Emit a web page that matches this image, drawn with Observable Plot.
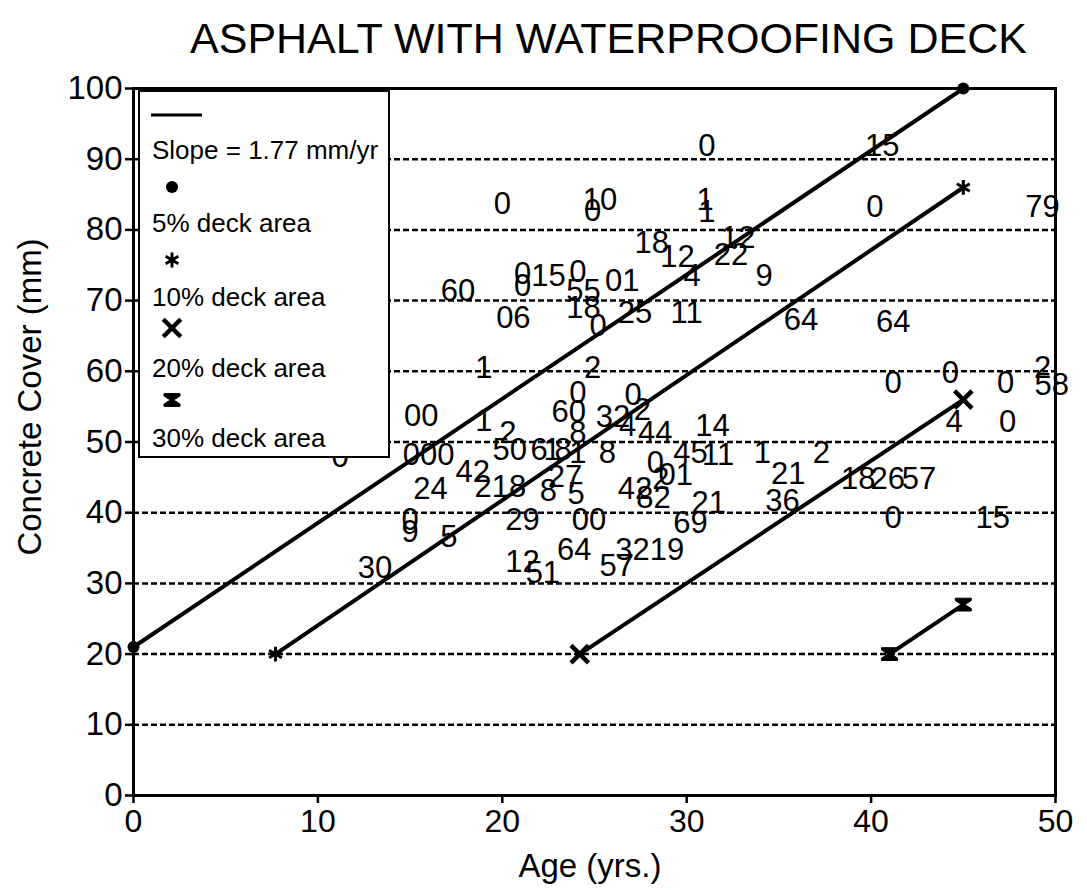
<!DOCTYPE html>
<html>
<head>
<meta charset="utf-8">
<script src="https://cdn.jsdelivr.net/npm/d3@7"></script>
<script src="https://cdn.jsdelivr.net/npm/@observablehq/plot@0.6"></script>
<style>
  body { margin: 0; background: #fff; font-family: "Liberation Sans", Arial, Helvetica, sans-serif; color: #000; }
  #wrap { position: relative; width: 1087px; height: 890px; overflow: hidden; background: #fff; }
  #title { height: 70px; line-height: 76px; font-size: 43px; text-align: center; padding-left: 130px;
           box-sizing: border-box; width: 1087px; white-space: nowrap; }
  #legend { position: absolute; left: 138px; top: 90px; width: 252px; height: 368px;
            border: 2px solid #000; background: #fff; box-sizing: border-box; }
  #legend svg { position: absolute; left: 0; top: 0; }
  .axlabel { position: absolute; font-size: 32px; white-space: nowrap; transform: translate(-50%, -50%); }
  #ylabel { left: 30px; top: 397px; transform: translate(-50%, -50%) rotate(-90deg); font-size: 33px; }
  #xlabel { left: 590px; top: 866px; font-size: 33px; }
</style>
</head>
<body>
<div id="wrap">
  <div id="title">ASPHALT WITH WATERPROOFING DECK</div>
  <div id="chart"></div>
  <div id="legend"></div>
  <div class="axlabel" id="ylabel">Concrete Cover (mm)</div>
  <div class="axlabel" id="xlabel">Age (yrs.)</div>
</div>
<script>
// ---------- data ----------
const series = ["5% deck area", "10% deck area", "20% deck area", "30% deck area"];
const startAge = [0, 7.7, 24.2, 41];
const startCover = [21, 20, 20, 20];
const endAge = [45, 45, 45, 45];
const endCover = [100, 86, 56, 27];
const slopeNote = "Slope = 1.77 mm/yr";

const xTicks = [0, 10, 20, 30, 40, 50];
const yTicks = [0, 10, 20, 30, 40, 50, 60, 70, 80, 90, 100];
const gridTicks = [10, 20, 30, 40, 50, 60, 70, 80, 90];

const labelText = ["0","15","0","10","0","1","1","0","79","18",
  "12","12","22","9","4","01","60","0","0","15",
  "0","55","18","0","06","25","11","64","64","1",
  "2","0","0","0","2","58","4","0","00","1",
  "2","000","24","42","218","50","6","1","8","1",
  "8","60","0","8","32","0","2","4","44","14",
  "45","11","1","2","21","18","26","57","36","21",
  "69","0","01","42","2","82","27","8","5","0",
  "9","5","30","29","00","64","57","3219","12","51",
  "0","0","15"];
const labelAge = [31.1,40.6,20.0,25.3,24.9,31.0,31.1,40.2,49.3,28.1,
  29.5,32.8,32.4,34.2,30.3,26.5,17.6,21.1,21.1,22.5,
  24.1,24.4,24.4,25.2,20.6,27.2,30.0,36.2,41.2,19.0,
  24.9,41.2,44.3,47.3,49.3,49.8,44.5,47.4,15.6,19.0,
  20.3,16.0,16.1,18.4,19.9,20.4,22.0,22.7,23.3,24.1,
  25.7,23.6,24.1,24.1,26.0,27.1,27.6,26.8,28.3,31.4,
  30.2,31.7,34.1,37.3,35.5,39.3,40.9,42.6,35.2,31.2,
  30.2,28.3,29.4,27.2,28.6,28.2,23.4,22.5,24.0,15.0,
  15.0,17.1,13.1,21.1,24.7,23.9,26.2,28.0,21.1,22.2,
  11.2,41.2,46.6];
const labelCover = [91.9,91.9,83.7,84.2,82.7,84.2,82.5,83.2,83.2,78.2,
  76.1,78.9,76.4,73.5,73.5,72.8,71.4,73.8,72.1,73.5,
  74.0,71.4,68.9,66.4,67.5,68.2,68.2,67.2,66.9,60.5,
  60.4,58.3,59.8,58.3,60.4,58.0,52.8,52.8,53.7,53.0,
  51.2,48.1,43.4,45.7,43.6,48.8,48.8,48.8,48.8,48.5,
  48.5,54.2,56.9,51.3,53.5,56.6,54.5,52.3,51.3,52.3,
  48.5,48.1,48.4,48.4,45.5,44.8,44.8,44.8,41.7,41.3,
  38.5,47.0,45.3,43.4,44.8,42.1,45.0,43.1,42.7,38.9,
  37.2,36.5,32.1,38.9,38.9,34.7,32.5,34.7,33.0,31.4,
  47.9,39.3,39.3];

// ---------- symbols ----------
const hourglass = {
  draw(ctx, size) {
    const r = Math.sqrt(size / Math.PI);
    const w = r, h = r * 0.8, t = r * 0.3, s = r * 0.2;
    ctx.moveTo(-w, -h); ctx.lineTo(w, -h); ctx.lineTo(w, -h + t); ctx.lineTo(s, 0);
    ctx.lineTo(w, h - t); ctx.lineTo(w, h); ctx.lineTo(-w, h); ctx.lineTo(-w, h - t);
    ctx.lineTo(-s, 0); ctx.lineTo(-w, -h + t); ctx.closePath();
  }
};
const symbolStyle = [
  {symbol: "circle", r: 6, fill: "#000", stroke: "none", strokeWidth: 0},
  {symbol: "asterisk", r: 7, fill: "none", stroke: "#000", strokeWidth: 3},
  {symbol: "times", r: 8, fill: "none", stroke: "#000", strokeWidth: 4.5},
  {symbol: hourglass, r: 8, fill: "#000", stroke: "#000", strokeWidth: 1}
];

// ---------- tables ----------
const segments = series.map((name, i) => [
  {series: name, age: startAge[i], cover: startCover[i]},
  {series: name, age: endAge[i], cover: endCover[i]}
]);
const labels = labelText.map((t, i) => ({text: t, age: labelAge[i], cover: labelCover[i]}));

const lineMarks = segments.map(seg => Plot.line(seg, {x: "age", y: "cover", stroke: "#000", strokeWidth: 4}));
const dotMarks = segments.map((seg, i) => Plot.dot(seg, {x: "age", y: "cover", ...symbolStyle[i]}));

const chart = Plot.plot({
  width: 1087,
  height: 820,
  marginTop: 18,
  marginBottom: 95,
  marginLeft: 133,
  marginRight: 32,
  x: {domain: [0, 50]},
  y: {domain: [0, 100]},
  style: {fontFamily: "'Liberation Sans', Arial, Helvetica, sans-serif", fontSize: "32px", color: "#000", background: "#fff", overflow: "visible"},
  marks: [
    Plot.gridY(gridTicks, {stroke: "#000", strokeOpacity: 1, strokeWidth: 2.5, strokeDasharray: "6,3"}),
    Plot.frame({stroke: "#000", strokeWidth: 3}),
    Plot.axisX(xTicks, {tickSize: 8, tickPadding: 6, label: null, fontSize: 32, strokeWidth: 2.5}),
    Plot.axisY(yTicks, {tickSize: 8, tickPadding: 3, label: null, fontSize: 33, strokeWidth: 2.5}),
    ...lineMarks,
    ...dotMarks,
    Plot.text(labels, {x: "age", y: "cover", text: "text", fontSize: 31, fill: "#000"})
  ]
});
document.getElementById("chart").appendChild(chart);

// ---------- legend ----------
const NS = "http://www.w3.org/2000/svg";
const lg = document.createElementNS(NS, "svg");
lg.setAttribute("width", 248); lg.setAttribute("height", 364);
lg.setAttribute("font-family", "'Liberation Sans', Arial, Helvetica, sans-serif");
lg.setAttribute("font-size", 26);
function add(tag, attrs, text) {
  const el = document.createElementNS(NS, tag);
  for (const k in attrs) el.setAttribute(k, attrs[k]);
  if (text != null) el.textContent = text;
  lg.appendChild(el);
  return el;
}
add("line", {x1: 11, x2: 62, y1: 23, y2: 23, stroke: "#000", "stroke-width": 3});
add("text", {x: 12, y: 67, fill: "#000"}, slopeNote);
const symY = [95, 168, 236, 308];
const txtY = [140, 214, 285, 355];
const symTypes = [d3.symbolCircle, d3.symbolAsterisk, d3.symbolTimes, hourglass];
series.forEach((name, i) => {
  const st = symbolStyle[i];
  const d = d3.symbol(symTypes[i], st.r * st.r * Math.PI)();
  add("path", {d, transform: `translate(32,${symY[i]})`, fill: st.fill, stroke: st.stroke, "stroke-width": st.strokeWidth});
  add("text", {x: 12, y: txtY[i], fill: "#000"}, name);
});
document.getElementById("legend").appendChild(lg);
</script>
</body>
</html>
